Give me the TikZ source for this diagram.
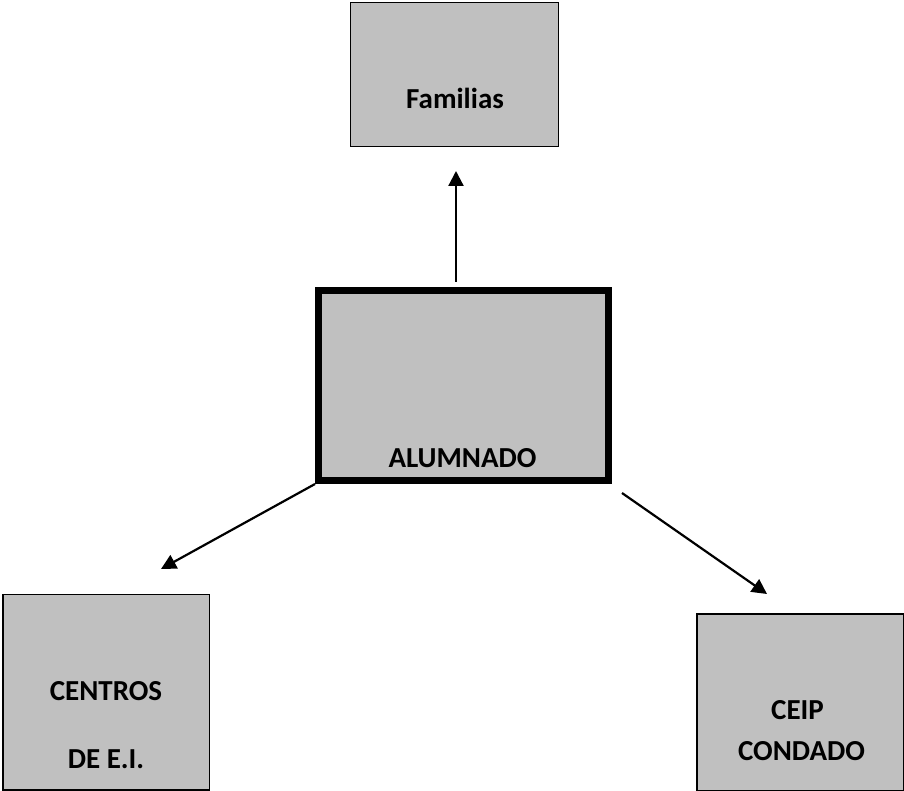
\documentclass[tikz,border=0pt]{standalone}
\usepackage{fontspec}
\setmainfont{Carlito}
\usetikzlibrary{arrows.meta}
\definecolor{boxgray}{HTML}{C0C0C0}
\tikzset{
  box/.style={draw=black, fill=boxgray, line width=1.5pt, inner sep=0pt, anchor=center},
  lbl/.style={font=\fontsize{29}{34}\selectfont\bfseries, inner sep=0pt, anchor=base},
  arr/.style={line width=2.2pt, -{Triangle[length=15pt,width=15pt]}}
}
\begin{document}
\begin{tikzpicture}[x=1pt,y=-1pt]
\useasboundingbox (0,0) rectangle (904,791);
\node[box, minimum width=208pt, minimum height=144pt] (fam) at (454.5,74.5) {};
\node[box, line width=7pt, minimum width=290pt, minimum height=190pt] (alum) at (463.5,385.5) {};
\node[box, minimum width=206.5pt, minimum height=195.5pt] (cent) at (106,692) {};
\node[box, minimum width=206.5pt, minimum height=176.5pt] (ceip) at (800,702) {};
\node[lbl] (tfam) at (455,109) {Familias};
\node[lbl] (talum) at (462.5,467) {ALUMNADO};
\node[lbl] (tcent1) at (106,700.7) {CENTROS};
\node[lbl] (tcent2) at (106,768) {DE E.I.};
\node[lbl] (tceip1) at (797.5,719) {CEIP};
\node[lbl] (tceip2) at (801.5,760.7) {CONDADO};
\coordinate (upstart) at (456,282);
\coordinate (uptip) at (456,171);
\coordinate (ltip) at (161,569);
\coordinate (rstart) at (622,493);
\coordinate (rtip) at (767,594);
\draw[arr] (upstart) -- (uptip);
\draw[arr] (alum.south west) -- (ltip);
\draw[arr] (rstart) -- (rtip);
\end{tikzpicture}
\end{document}
